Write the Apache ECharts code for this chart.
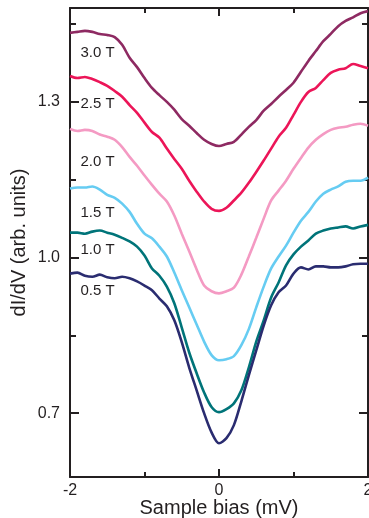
<!DOCTYPE html>
<html>
<head>
<meta charset="utf-8">
<script src="https://cdn.jsdelivr.net/npm/echarts@6/dist/echarts.min.js"></script>
<style>html,body{margin:0;padding:0;background:#fff}#c{width:369px;height:518px}</style>
</head>
<body>
<div id="c"></div>
<script>
const bias = [-2.0,-1.9,-1.8,-1.7,-1.6,-1.5,-1.4,-1.3,-1.2,-1.1,-1.0,-0.9,-0.8,-0.7,-0.6,-0.5,-0.4,-0.3,-0.2,-0.1,0.0,0.1,0.2,0.3,0.4,0.5,0.6,0.7,0.8,0.9,1.0,1.1,1.2,1.3,1.4,1.5,1.6,1.7,1.8,1.9,2.0];

const g30 = [1.433,1.435,1.437,1.435,1.431,1.429,1.425,1.410,1.385,1.367,1.346,1.327,1.313,1.300,1.285,1.267,1.254,1.240,1.227,1.219,1.215,1.219,1.223,1.237,1.252,1.265,1.283,1.296,1.310,1.323,1.337,1.358,1.379,1.398,1.417,1.431,1.446,1.456,1.463,1.471,1.475];
const g25 = [1.350,1.346,1.348,1.344,1.338,1.331,1.321,1.310,1.294,1.279,1.260,1.242,1.231,1.210,1.190,1.171,1.148,1.127,1.108,1.094,1.090,1.096,1.110,1.125,1.144,1.165,1.187,1.210,1.233,1.250,1.275,1.300,1.319,1.327,1.342,1.356,1.362,1.365,1.373,1.369,1.365];
const g20 = [1.248,1.244,1.246,1.244,1.237,1.233,1.227,1.213,1.194,1.177,1.158,1.140,1.123,1.108,1.081,1.046,1.012,0.977,0.946,0.935,0.931,0.935,0.942,0.967,1.002,1.038,1.075,1.110,1.129,1.148,1.171,1.192,1.212,1.227,1.238,1.246,1.250,1.252,1.256,1.258,1.254];
const g15 = [1.133,1.135,1.135,1.137,1.131,1.121,1.115,1.104,1.088,1.065,1.046,1.037,1.021,1.002,0.971,0.937,0.904,0.871,0.838,0.812,0.802,0.804,0.810,0.831,0.862,0.904,0.944,0.979,1.002,1.023,1.048,1.071,1.088,1.108,1.123,1.131,1.137,1.146,1.148,1.148,1.154];
const g10 = [1.048,1.048,1.046,1.050,1.052,1.048,1.044,1.038,1.031,1.021,1.004,0.979,0.965,0.944,0.912,0.865,0.817,0.777,0.740,0.712,0.702,0.708,0.719,0.744,0.788,0.838,0.879,0.923,0.952,0.985,1.006,1.021,1.033,1.046,1.052,1.056,1.058,1.060,1.056,1.060,1.063];
const g05 = [0.969,0.971,0.965,0.963,0.967,0.962,0.960,0.963,0.960,0.954,0.946,0.937,0.921,0.906,0.879,0.837,0.788,0.744,0.700,0.663,0.642,0.652,0.677,0.723,0.773,0.821,0.869,0.908,0.933,0.946,0.969,0.981,0.977,0.983,0.983,0.981,0.981,0.983,0.987,0.988,0.988];

const seriesNames = ['3.0 T','2.5 T','2.0 T','1.5 T','1.0 T','0.5 T'];
const seriesData = [g30, g25, g20, g15, g10, g05];
const colors = ['#8E2A62','#EC1558','#F49AC3','#66CCF2','#007479','#2A2C70'];
const labelY = [1.394, 1.296, 1.185, 1.087, 1.015, 0.935];
const labelX = -1.86;

const xLabelVals = [-2, 0, 2];
const xMinorTicks = [-1, 0, 1];
const yLabelVals = [0.7, 1.0, 1.3];
const yMinorTicks = [0.85, 1.15, 1.45];

const font = 'Liberation Sans, Arial, Helvetica, sans-serif';
const ink = '#231F20';

const chart = echarts.init(document.getElementById('c'), null, {renderer: 'canvas'});

const xMin = -2, xMax = 2, yMin = 0.577, yMax = 1.481;
const lineStyle = {color: ink, width: 2};

const option = {
  animation: false,
  backgroundColor: '#fff',
  grid: {left: 70, right: 1, top: 8, bottom: 41, containLabel: false, outerBoundsMode: 'none'},
  xAxis: [
    {type: 'value', min: xMin, max: xMax, position: 'bottom',
     axisLine: {show: true, lineStyle: lineStyle, onZero: false},
     axisTick: {show: true, inside: true, length: 5, customValues: xMinorTicks, lineStyle: lineStyle},
     axisLabel: {show: true, customValues: xLabelVals, color: ink, fontSize: 16, fontFamily: font, margin: 6,
       formatter: v => String(v)},
     splitLine: {show: false},
     name: 'Sample bias (mV)', nameLocation: 'middle', nameGap: 21, nameMoveOverlap: false,
     nameTextStyle: {color: ink, fontSize: 20, fontFamily: font}},
    {type: 'value', min: xMin, max: xMax, position: 'bottom',
     axisLine: {show: false, onZero: false},
     axisTick: {show: true, inside: true, length: 8, customValues: [0], lineStyle: lineStyle},
     axisLabel: {show: false}, splitLine: {show: false}},
    {type: 'value', min: xMin, max: xMax, position: 'top',
     axisLine: {show: true, lineStyle: lineStyle, onZero: false},
     axisTick: {show: true, inside: true, length: 5, customValues: xMinorTicks, lineStyle: lineStyle},
     axisLabel: {show: false}, splitLine: {show: false}},
    {type: 'value', min: xMin, max: xMax, position: 'top',
     axisLine: {show: false, onZero: false},
     axisTick: {show: true, inside: true, length: 8, customValues: [0], lineStyle: lineStyle},
     axisLabel: {show: false}, splitLine: {show: false}}
  ],
  yAxis: [
    {type: 'value', min: yMin, max: yMax, position: 'left',
     axisLine: {show: true, lineStyle: lineStyle, onZero: false},
     axisTick: {show: true, inside: true, length: 6, customValues: yMinorTicks, lineStyle: lineStyle},
     axisLabel: {show: true, customValues: yLabelVals, color: ink, fontSize: 16, fontFamily: font, margin: 10,
       formatter: v => v.toFixed(1)},
     splitLine: {show: false},
     name: 'dI/dV (arb. units)', nameLocation: 'middle', nameGap: 41, nameMoveOverlap: false,
     nameTextStyle: {color: ink, fontSize: 20, fontFamily: font}},
    {type: 'value', min: yMin, max: yMax, position: 'left',
     axisLine: {show: false, onZero: false},
     axisTick: {show: true, inside: true, length: 9, customValues: yLabelVals, lineStyle: lineStyle},
     axisLabel: {show: false}, splitLine: {show: false}},
    {type: 'value', min: yMin, max: yMax, position: 'right',
     axisLine: {show: true, lineStyle: lineStyle, onZero: false},
     axisTick: {show: true, inside: true, length: 6, customValues: yMinorTicks, lineStyle: lineStyle},
     axisLabel: {show: false}, splitLine: {show: false}},
    {type: 'value', min: yMin, max: yMax, position: 'right',
     axisLine: {show: false, onZero: false},
     axisTick: {show: true, inside: true, length: 9, customValues: yLabelVals, lineStyle: lineStyle},
     axisLabel: {show: false}, splitLine: {show: false}}
  ],
  series: seriesNames.map((n, i) => ({
    name: n, type: 'line', xAxisIndex: 0, yAxisIndex: 0,
    data: bias.map((x, j) => [x, seriesData[i][j]]),
    showSymbol: false, symbol: 'none', smooth: 0.3,
    lineStyle: {color: colors[i], width: 2.6},
    z: 2
  }))
};
chart.setOption(option);

const graphics = seriesNames.map((n, i) => {
  const p = chart.convertToPixel({xAxisIndex: 0, yAxisIndex: 0}, [labelX, labelY[i]]);
  return {type: 'text', x: p[0], y: p[1], z: 10,
    style: {text: n, fill: ink, font: '15px ' + font, textAlign: 'left', textVerticalAlign: 'middle'}};
});
chart.setOption({graphic: graphics});
</script>
</body>
</html>
